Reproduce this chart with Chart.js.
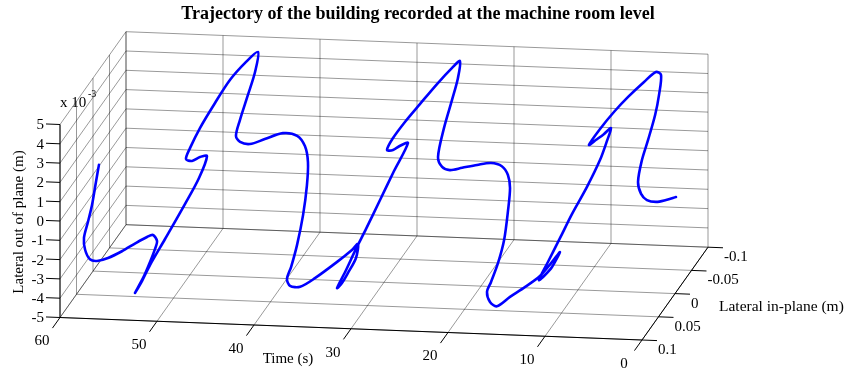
<!DOCTYPE html>
<html>
<head>
<meta charset="utf-8">
<script src="https://cdn.jsdelivr.net/npm/chart.js@4.4.1/dist/chart.umd.min.js"></script>
<style>
  html, body { margin: 0; padding: 0; background: #ffffff; }
  #wrap { width: 847px; height: 372px; position: relative; }
</style>
</head>
<body>
<div id="wrap"><canvas id="c" width="847" height="372"></canvas></div>
<script>
// ---------------- DATA ----------------
// Time (s)
const time = [60.00,59.70,59.32,58.93,58.55,58.50,58.21,57.89,57.43,56.78,56.13,55.62,55.35,55.10,54.94,54.53,54.03,53.29,53.03,52.73,52.18,51.44,50.92,50.63,49.68,48.60,48.03,47.88,47.51,46.96,46.41,45.85,45.37,45.03,44.24,43.33,42.88,42.73,42.36,41.81,41.14,40.62,40.33,40.22,40.09,39.60,38.86,38.11,37.62,37.51,37.15,36.61,35.82,35.28,35.06,34.25,33.17,32.63,32.46,32.14,31.78,31.42,30.92,30.41,29.91,28.92,28.05,27.31,27.08,26.63,26.06,25.42,24.85,24.55,24.32,23.64,22.73,22.05,21.90,21.61,21.16,20.61,20.09,19.69,19.47,19.39,19.18,18.77,18.14,17.41,17.00,16.86,16.53,15.92,15.21,14.50,13.93,13.56,12.68,12.04,11.64,11.31,10.86,10.42,9.87,9.39,9.13,8.98,8.19,7.28,6.49,6.08,5.56,5.04,4.45,4.01,3.82,3.62,3.20,2.47,1.85,1.43,1.32,1.09,0.75,0.38,0.00];
// Lateral in-plane (m)
const inPlane = [-0.018,0.000,0.023,0.047,0.070,0.068,0.062,0.050,0.030,0.007,-0.017,-0.035,-0.045,-0.050,-0.039,-0.012,0.021,0.070,0.056,0.041,0.012,-0.027,-0.054,-0.070,-0.021,0.035,0.070,0.062,0.043,0.014,-0.016,-0.045,-0.070,-0.051,-0.006,0.045,0.070,0.062,0.043,0.014,-0.021,-0.049,-0.064,-0.070,-0.063,-0.037,0.003,0.043,0.070,0.064,0.044,0.015,-0.029,-0.058,-0.070,-0.040,0.016,0.050,0.070,0.052,0.033,0.013,-0.015,-0.042,-0.070,-0.017,0.030,0.070,0.059,0.035,0.007,-0.026,-0.055,-0.070,-0.057,-0.019,0.032,0.070,0.062,0.047,0.023,-0.006,-0.033,-0.054,-0.066,-0.070,-0.058,-0.034,0.003,0.046,0.070,0.065,0.054,0.032,0.008,-0.017,-0.037,-0.050,0.000,0.040,0.070,0.053,0.029,0.006,-0.023,-0.049,-0.062,-0.070,-0.025,0.025,0.070,0.049,0.021,-0.006,-0.037,-0.060,-0.070,-0.058,-0.034,0.009,0.046,0.070,0.064,0.053,0.035,0.016,-0.003];
// Lateral out of plane (x 10^-3 m)
const outOfPlane = [0.07,-0.39,-1.01,-1.32,-1.57,-2.23,-2.86,-3.23,-3.55,-3.74,-3.87,-3.99,-4.12,-4.55,-4.70,-4.71,-4.64,-4.32,-4.02,-3.56,-2.91,-2.01,-1.31,-0.54,0.61,1.77,2.72,3.11,3.69,4.29,4.79,4.98,4.95,4.38,4.28,4.22,4.02,3.52,2.96,2.53,2.01,1.21,0.32,-0.65,-1.68,-2.58,-3.16,-3.32,-3.29,-3.79,-4.31,-4.55,-4.75,-4.82,-4.79,-4.78,-4.19,-3.88,-3.66,-3.15,-2.52,-1.96,-1.11,-0.26,0.54,1.69,2.62,3.59,3.94,4.23,4.48,4.74,4.89,4.89,4.32,4.11,3.90,3.33,2.63,2.11,1.66,1.12,0.58,-0.08,-0.82,-1.59,-2.43,-3.39,-3.69,-3.64,-3.56,-4.20,-4.68,-4.71,-4.77,-4.78,-4.52,-4.31,-3.87,-3.31,-2.84,-2.32,-1.63,-0.94,-0.23,0.57,1.23,1.72,2.50,3.43,4.26,4.58,4.82,4.95,4.99,4.96,4.57,3.83,3.39,3.13,2.98,2.44,1.68,1.10,0.58,0.23,-0.07];

const timeTicks = [60, 50, 40, 30, 20, 10, 0];
const inPlaneTicks = [-0.1, -0.05, 0, 0.05, 0.1];
const inPlaneTickLabels = ['-0.1', '-0.05', '0', '0.05', '0.1'];
const outTicks = [5, 4, 3, 2, 1, 0, -1, -2, -3, -4, -5];

// ---------------- VIEW (3D -> 2D projection) ----------------
const W = 847, H = 372;
const tMin = Math.min(...timeTicks), tMax = Math.max(...timeTicks);
const pMin = Math.min(...inPlaneTicks), pMax = Math.max(...inPlaneTicks);
const zMin = Math.min(...outTicks), zMax = Math.max(...outTicks);
const ORIGIN = {x: 60, y: 317.5};        // corner t=tMax, p=pMax, z=zMin
const T_SPAN = {x: 582, y: 22.5};        // moving from tMax to tMin
const P_SPAN = {x: 66, y: -92.8};        // moving from pMax to pMin
const Z_SPAN = {x: 0, y: -193};          // moving from zMin to zMax
function proj(t, p, z) {
  const a = (tMax - t) / (tMax - tMin);
  const b = (pMax - p) / (pMax - pMin);
  const c = (z - zMin) / (zMax - zMin);
  return {
    x: ORIGIN.x + a * T_SPAN.x + b * P_SPAN.x + c * Z_SPAN.x,
    y: ORIGIN.y + a * T_SPAN.y + b * P_SPAN.y + c * Z_SPAN.y
  };
}

const GRID = 'rgba(0,0,0,0.40)';
const datasets = [];
function seg(a, b, color, width, order) {
  datasets.push({data: [a, b], showLine: true, borderColor: color, borderWidth: width,
    pointRadius: 0, tension: 0, order: order});
}
// back wall (p = pMin)
timeTicks.forEach(t => seg(proj(t, pMin, zMin), proj(t, pMin, zMax), GRID, 1, 3));
outTicks.forEach(z => seg(proj(tMin, pMin, z), proj(tMax, pMin, z), GRID, 1, 3));
// left wall (t = tMax)
outTicks.forEach(z => seg(proj(tMax, pMin, z), proj(tMax, pMax, z), GRID, 1, 3));
inPlaneTicks.forEach(p => seg(proj(tMax, p, zMin), proj(tMax, p, zMax), GRID, 1, 3));
// floor (z = zMin)
timeTicks.forEach(t => seg(proj(t, pMin, zMin), proj(t, pMax, zMin), GRID, 1, 3));
inPlaneTicks.forEach(p => seg(proj(tMin, p, zMin), proj(tMax, p, zMin), GRID, 1, 3));

// axis lines
const AX = '#000000';
seg(proj(tMax, pMax, zMin), proj(tMax, pMax, zMax), AX, 1, 2);   // z axis
seg(proj(tMax, pMax, zMin), proj(tMin, pMax, zMin), AX, 1, 2);   // time axis
seg(proj(tMin, pMax, zMin), proj(tMin, pMin, zMin), AX, 1, 2);   // in-plane axis
// tick marks
const tLen = 13 / Math.hypot(P_SPAN.x, P_SPAN.y);
timeTicks.forEach(t => { const a = proj(t, pMax, zMin);
  seg(a, {x: a.x - P_SPAN.x * tLen, y: a.y - P_SPAN.y * tLen}, AX, 1, 2); });
const pLen = 15 / Math.hypot(T_SPAN.x, T_SPAN.y);
inPlaneTicks.forEach(p => { const a = proj(tMin, p, zMin);
  seg(a, {x: a.x + T_SPAN.x * pLen, y: a.y + T_SPAN.y * pLen}, AX, 1, 2); });
outTicks.forEach(z => { const a = proj(tMax, pMax, z);
  seg(a, {x: a.x - T_SPAN.x * 14 / 582, y: a.y - T_SPAN.y * 14 / 582}, AX, 1, 2); });

// trajectory
const traj = time.map((t, i) => proj(t, inPlane[i], outOfPlane[i]));
datasets.push({data: traj, showLine: true, borderColor: '#0000ff', borderWidth: 2.6,
  pointRadius: 0, tension: 0.3, order: 0, borderJoinStyle: 'round', borderCapStyle: 'round'});

const SERIF = '"Liberation Serif", "Times New Roman", serif';
const labelsPlugin = {
  id: 'labels3d',
  afterDatasetsDraw(chart) {
    const ctx = chart.ctx, xs = chart.scales.x, ys = chart.scales.y;
    const P = pt => ({x: xs.getPixelForValue(pt.x), y: ys.getPixelForValue(pt.y)});
    ctx.save();
    ctx.fillStyle = '#000';
    ctx.font = '15px ' + SERIF;
    // z tick labels
    ctx.textAlign = 'right'; ctx.textBaseline = 'middle';
    outTicks.forEach(z => { const a = P(proj(tMax, pMax, z)); ctx.fillText(String(z), a.x - 16, a.y + 1); });
    // time tick labels
    ctx.textAlign = 'center';
    timeTicks.forEach(t => { const a = P(proj(t, pMax, zMin)); ctx.fillText(String(t), a.x - 18, a.y + 24); });
    // in-plane tick labels
    ctx.textAlign = 'left';
    inPlaneTicks.forEach((p, i) => { const a = P(proj(tMin, p, zMin)); ctx.fillText(inPlaneTickLabels[i], a.x + 16, a.y + 10); });
    // axis titles
    ctx.font = '15.5px ' + SERIF;
    ctx.fillText('Lateral in-plane (m)', P({x: 719, y: 0}).x, P({x: 0, y: 307}).y);
    ctx.font = '15px ' + SERIF;
    ctx.textAlign = 'center';
    ctx.fillText('Time (s)', P({x: 288, y: 0}).x, P({x: 0, y: 359}).y);
    ctx.save();
    ctx.translate(P({x: 19, y: 0}).x, P({x: 0, y: 222}).y);
    ctx.rotate(-Math.PI / 2);
    ctx.fillText('Lateral out of plane (m)', 0, 0);
    ctx.restore();
    // exponent
    const top = P(proj(tMax, pMax, zMax));
    ctx.textAlign = 'left';
    ctx.fillText('x 10', top.x, top.y - 21);
    ctx.font = '10px ' + SERIF;
    ctx.fillText('-3', top.x + 28, top.y - 30);
    // title
    ctx.font = 'bold 18px ' + SERIF;
    ctx.textAlign = 'center';
    ctx.fillText('Trajectory of the building recorded at the machine room level', 418, 14);
    ctx.restore();
  }
};

new Chart(document.getElementById('c'), {
  type: 'scatter',
  data: {datasets: datasets},
  options: {
    responsive: false, animation: false, devicePixelRatio: 1,
    layout: {padding: 0},
    plugins: {legend: {display: false}, tooltip: {enabled: false}, title: {display: false}},
    scales: {
      x: {type: 'linear', min: 0, max: W, display: false},
      y: {type: 'linear', min: 0, max: H, reverse: true, display: false}
    },
    elements: {point: {radius: 0}}
  },
  plugins: [labelsPlugin]
});
</script>
</body>
</html>
